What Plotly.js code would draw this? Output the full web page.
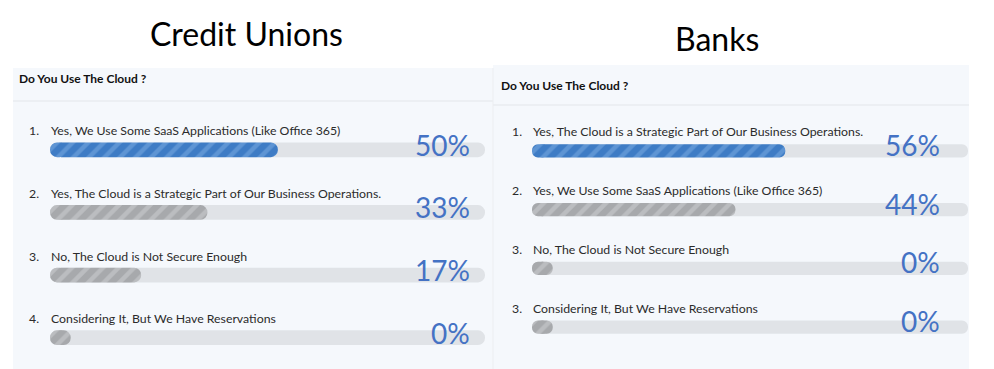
<!DOCTYPE html>
<html>
<head>
<meta charset="utf-8">
<script src="https://cdn.plot.ly/plotly-3.0.1.min.js"></script>
<style>html,body{margin:0;padding:0;background:#fff;}#chart{width:994px;height:369px;}</style>
</head>
<body>
<div id="chart"></div>
<script>
// ---- data ----
const cuTitle = "Credit Unions";
const bankTitle = "Banks";
const question = "Do You Use The Cloud ?";
const cuNumbers = ["1.", "2.", "3.", "4."];
const cuLabels = [
  "Yes, We Use Some SaaS Applications (Like Office 365)",
  "Yes, The Cloud is a Strategic Part of Our Business Operations.",
  "No, The Cloud is Not Secure Enough",
  "Considering It, But We Have Reservations"
];
const cuValues = [50, 33, 17, 0];
const bankNumbers = ["1.", "2.", "3.", "3."];
const bankLabels = [
  "Yes, The Cloud is a Strategic Part of Our Business Operations.",
  "Yes, We Use Some SaaS Applications (Like Office 365)",
  "No, The Cloud is Not Secure Enough",
  "Considering It, But We Have Reservations"
];
const bankValues = [56, 44, 0, 0];

// ---- styling ----
const STUB = 5;            // minimum visible stub (axis units) for 0%
const LEFT_BASE = -1;      // left cap piece spans [-STUB, LEFT_BASE], rounded at -STUB
const RIGHT_BASE = -4;     // main piece spans [RIGHT_BASE, value], rounded at value (overlaps cap)
const FULL = 100;
const FONT = "Lato, 'Open Sans', sans-serif";
const BLUE = "#3e7cc5", BLUE_STRIPE = "#5e95d4";
const GRAY = "#a7a9ac", GRAY_STRIPE = "#bbbdc0";
const TRACK = "#e0e3e7";
const PCT = "#4472c4";

const rows = [0, 1, 2, 3];

function capsule(idx, ends, marker, xa, ya, width) {
  const common = {type: "bar", orientation: "h", y: idx, width: width, xaxis: xa, yaxis: ya,
    hoverinfo: "skip", showlegend: false, marker: marker};
  return [
    Object.assign({}, common, {base: idx.map(() => LEFT_BASE), x: idx.map(() => -STUB - LEFT_BASE)}),
    Object.assign({}, common, {base: idx.map(() => RIGHT_BASE), x: ends.map(e => e - RIGHT_BASE)})
  ];
}

function panelTraces(values, xa, ya, width) {
  let out = capsule(rows, rows.map(() => FULL),
    {color: TRACK, cornerradius: "50%", line: {width: 0}}, xa, ya, width);
  [[BLUE, BLUE_STRIPE, i => i === 0], [GRAY, GRAY_STRIPE, i => i !== 0]].forEach(([c, s, pick]) => {
    const idx = rows.filter(pick);
    const mk = {color: c, cornerradius: "50%", line: {width: 0},
      pattern: {shape: "/", fillmode: "overlay", fgcolor: s, fgopacity: 1, size: 11, solidity: 0.4}};
    out = out.concat(capsule(idx, idx.map(i => values[i]), mk, xa, ya, width));
  });
  return out;
}

const data = [].concat(
  panelTraces(cuValues, "x", "y", 0.235),
  panelTraces(bankValues, "x2", "y2", 0.225)
);

const annotations = [];
function panelAnnotations(numbers, labels, values, xa, ya, numShift, pctShift, pctY) {
  rows.forEach(i => {
    annotations.push({xref: xa, yref: ya, x: -STUB, y: i, text: numbers[i], showarrow: false,
      xanchor: "left", yanchor: "middle", xshift: numShift, yshift: 19,
      font: {family: FONT, size: 12.3, color: "#2b2b2b"}});
    annotations.push({xref: xa, yref: ya, x: -STUB, y: i, text: labels[i], showarrow: false,
      xanchor: "left", yanchor: "middle", xshift: -1, yshift: 19,
      font: {family: FONT, size: 12.3, color: "#2b2b2b"}});
    annotations.push({xref: xa, yref: ya, x: FULL, y: i, text: values[i] + "%", showarrow: false,
      xanchor: "right", yanchor: "middle", xshift: pctShift, yshift: pctY,
      font: {family: FONT, size: 28, color: PCT}});
  });
}
panelAnnotations(cuNumbers, cuLabels, cuValues, "x", "y", -23, -13, 5);
panelAnnotations(bankNumbers, bankLabels, bankValues, "x2", "y2", -22, -26, 6);

annotations.push({xref: "paper", yref: "paper", x: 246 / 994, y: 1 - 33 / 369, text: cuTitle,
  showarrow: false, xanchor: "center", yanchor: "middle", font: {family: FONT, size: 32, color: "#000"}});
annotations.push({xref: "paper", yref: "paper", x: 717 / 994, y: 1 - 38 / 369, text: bankTitle,
  showarrow: false, xanchor: "center", yanchor: "middle", font: {family: FONT, size: 32, color: "#000"}});
annotations.push({xref: "paper", yref: "paper", x: 17 / 994, y: 1 - 79 / 369, text: "<b>" + question + "</b>",
  showarrow: false, xanchor: "left", yanchor: "middle", font: {family: FONT, size: 12, color: "#111"}});
annotations.push({xref: "paper", yref: "paper", x: 499 / 994, y: 1 - 85 / 369, text: "<b>" + question + "</b>",
  showarrow: false, xanchor: "left", yanchor: "middle", font: {family: FONT, size: 12, color: "#111"}});

const shapes = [
  {type: "rect", xref: "paper", yref: "paper", x0: 13 / 994, x1: 493 / 994, y0: 0, y1: 1 - 68 / 369,
    fillcolor: "#f5f8fc", line: {width: 0}, layer: "below"},
  {type: "line", xref: "paper", yref: "paper", x0: 13 / 994, x1: 493 / 994, y0: 1 - 101 / 369, y1: 1 - 101 / 369,
    line: {color: "#e3e6ea", width: 1}, layer: "below"},
  {type: "rect", xref: "paper", yref: "paper", x0: 493 / 994, x1: 969 / 994, y0: 0, y1: 1 - 65 / 369,
    fillcolor: "#f5f8fc", line: {width: 0}, layer: "below"},
  {type: "line", xref: "paper", yref: "paper", x0: 493 / 994, x1: 969 / 994, y0: 1 - 105 / 369, y1: 1 - 105 / 369,
    line: {color: "#e3e6ea", width: 1}, layer: "below"},
  {type: "line", xref: "paper", yref: "paper", x0: 493 / 994, x1: 493 / 994, y0: 0, y1: 1 - 68 / 369,
    line: {color: "#eceef1", width: 1}, layer: "below"}
];

const hidden = {showgrid: false, zeroline: false, showticklabels: false, showline: false, ticks: "", fixedrange: true};

const layout = {
  width: 994, height: 369,
  margin: {l: 0, r: 0, t: 0, b: 0},
  paper_bgcolor: "#ffffff", plot_bgcolor: "rgba(0,0,0,0)",
  barmode: "overlay",
  showlegend: false,
  xaxis: Object.assign({}, hidden, {domain: [50 / 994, 485 / 994], range: [-STUB, FULL]}),
  yaxis: Object.assign({}, hidden, {domain: [0, 1 - 118.5 / 369], range: [3.5, -0.5]}),
  xaxis2: Object.assign({}, hidden, {domain: [532 / 994, 968 / 994], range: [-STUB, FULL], anchor: "y2"}),
  yaxis2: Object.assign({}, hidden, {domain: [1 - 356.5 / 369, 1 - 121.5 / 369], range: [3.5, -0.5], anchor: "x2"}),
  annotations: annotations,
  shapes: shapes
};

Plotly.newPlot("chart", data, layout, {displayModeBar: false, staticPlot: true});
</script>
</body>
</html>
